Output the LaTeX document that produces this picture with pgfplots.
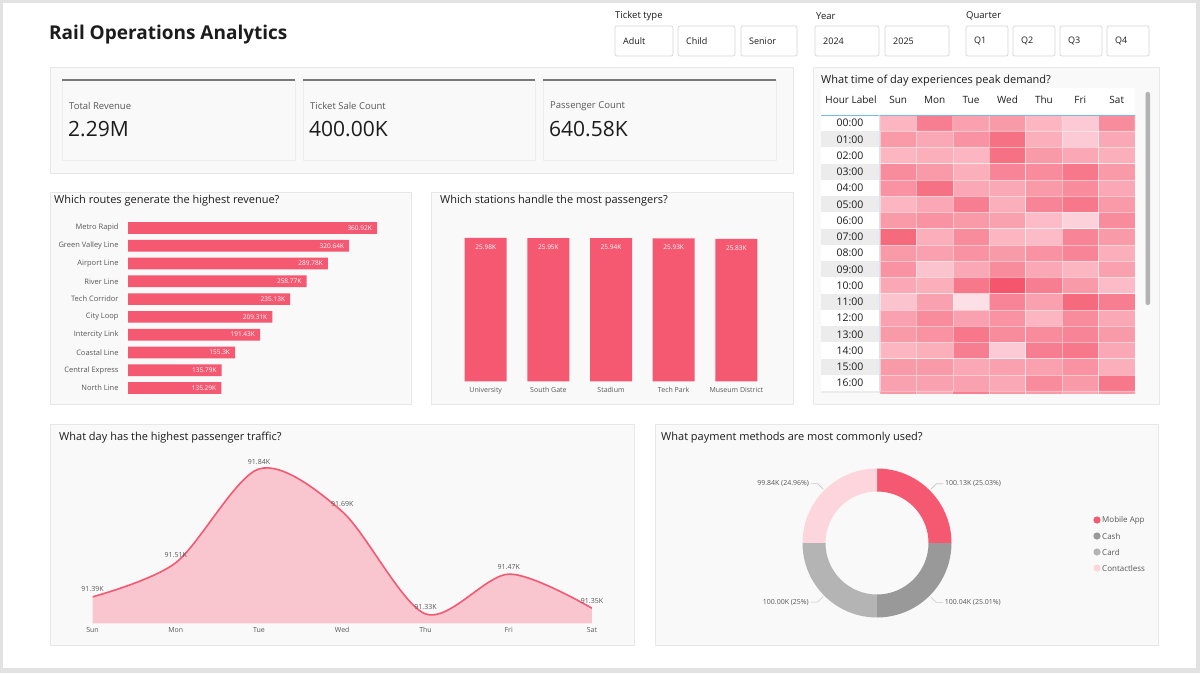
\documentclass[border=0pt]{standalone}
\usepackage{fontspec}
\setmainfont{Open Sans}
\usepackage{pgfplots}
\usepackage{pgfplotstable}
\pgfplotsset{compat=1.18, /pgf/number format/assume math mode=true}

\definecolor{brand}{RGB}{245,88,113}
\definecolor{brandfill}{RGB}{249,198,207}
\definecolor{panelbg}{RGB}{249,249,249}
\definecolor{panelrule}{RGB}{231,231,231}
\definecolor{framegray}{RGB}{226,226,226}
\definecolor{ink}{RGB}{28,28,28}
\definecolor{soft}{RGB}{88,88,88}
\definecolor{cashgray}{RGB}{153,153,153}
\definecolor{cardgray}{RGB}{180,180,180}
\definecolor{contactless}{RGB}{253,214,221}
\definecolor{rowshade}{RGB}{236,236,236}
\definecolor{hdrblue}{RGB}{120,185,240}
\definecolor{slicerline}{RGB}{214,214,214}
\definecolor{kpirule}{RGB}{120,120,120}
\definecolor{leader}{RGB}{200,200,200}

\newcommand\fs[1]{\fontsize{#1pt}{#1pt}\selectfont}

% ---------- data ----------
\pgfplotstableread[col sep=comma]{
idx,route,revenue
0,Metro Rapid,360.92
1,Green Valley Line,320.64
2,Airport Line,289.78
3,River Line,258.77
4,Tech Corridor,235.13
5,City Loop,209.31
6,Intercity Link,191.43
7,Coastal Line,155.3
8,Central Express,135.79
9,North Line,135.29
}\routes

\pgfplotstableread[col sep=comma]{
idx,station,passengers
0,University,25.98
1,South Gate,25.95
2,Stadium,25.94
3,Tech Park,25.93
4,Museum District,25.83
}\stations

\pgfplotstableread[col sep=comma]{
idx,day,traffic
0,Sun,91.39
1,Mon,91.51
2,Tue,91.84
3,Wed,91.69
4,Thu,91.33
5,Fri,91.47
6,Sat,91.35
}\days

\pgfplotstableread[col sep=comma]{
method,value
Mobile App,100.13
Cash,100.04
Card,100.00
Contactless,99.84
}\payments

% demand index per hour (rows, 0 = 00:00) and weekday (cols, 0 = Sun)
\pgfplotstableread{
col row demand
0 0 3
1 0 7
2 0 4.5
3 0 5
4 0 3
5 0 1.5
6 0 6
0 -1 5
1 -1 4
2 -1 5.5
3 -1 8
4 -1 3.5
5 -1 1.5
6 -1 4
0 -2 3
1 -2 3.5
2 -2 3
3 -2 8
4 -2 5
5 -2 4
6 -2 3.5
0 -3 6
1 -3 5
2 -3 3.5
3 -3 6.5
4 -3 6
5 -3 7.5
6 -3 5
0 -4 5.5
1 -4 8
2 -4 4
3 -4 4
4 -4 5
5 -4 6
6 -4 4
0 -5 3
1 -5 4
2 -5 7
3 -5 3.5
4 -5 6.5
5 -5 7.5
6 -5 5
0 -6 5
1 -6 5.5
2 -6 5
3 -6 4.5
4 -6 2.5
5 -6 1
6 -6 6
0 -7 8.5
1 -7 3.5
2 -7 6
3 -7 3
4 -7 2.5
5 -7 6.5
6 -7 5
0 -8 5
1 -8 4.5
2 -8 5.5
3 -8 5
4 -8 5.5
5 -8 6.5
6 -8 3.5
0 -9 5.5
1 -9 2
2 -9 4
3 -9 6
4 -9 4
5 -9 3
6 -9 4.5
0 -10 4
1 -10 3.5
2 -10 7.5
3 -10 10
4 -10 7
5 -10 5
6 -10 2.5
0 -11 2
1 -11 4.5
2 -11 0
3 -11 6.5
4 -11 4.5
5 -11 8.5
6 -11 7
0 -12 4.5
1 -12 6
2 -12 4.5
3 -12 5.5
4 -12 3
5 -12 6
6 -12 4
0 -13 5
1 -13 5.5
2 -13 7.5
3 -13 6
4 -13 6
5 -13 6.5
6 -13 5
0 -14 3
1 -14 3.5
2 -14 7
3 -14 1.5
4 -14 7
5 -14 7.5
6 -14 4
0 -15 5
1 -15 5
2 -15 4
3 -15 4.5
4 -15 4.5
5 -15 5.5
6 -15 3.5
0 -16 4.5
1 -16 4.5
2 -16 4.5
3 -16 4
4 -16 6
5 -16 5
6 -16 7.5
0 -17 5
1 -17 4
2 -17 7
3 -17 5
4 -17 5
5 -17 4
6 -17 5
}\heat

% donut angles, clockwise from 12 o'clock
\pgfplotstablegetelem{0}{value}\of\payments \let\pa\pgfplotsretval
\pgfplotstablegetelem{1}{value}\of\payments \let\pb\pgfplotsretval
\pgfplotstablegetelem{2}{value}\of\payments \let\pc\pgfplotsretval
\pgfplotstablegetelem{3}{value}\of\payments \let\pd\pgfplotsretval
\pgfmathsetmacro\ptot{\pa+\pb+\pc+\pd}
\pgfmathsetmacro\aA{90}
\pgfmathsetmacro\aB{\aA-360*(\pa/\ptot)}
\pgfmathsetmacro\aC{\aB-360*(\pb/\ptot)}
\pgfmathsetmacro\aD{\aC-360*(\pc/\ptot)}
\pgfmathsetmacro\aE{\aD-360*(\pd/\ptot)}
\pgfmathsetmacro\mA{(\aA+\aB)/2}
\pgfmathsetmacro\mB{(\aB+\aC)/2}
\pgfmathsetmacro\mC{(\aC+\aD)/2}
\pgfmathsetmacro\mD{(\aD+\aE)/2}

% ring segment in a unit-radius axis (outer radius 1 = 74.5pt, inner 51.5pt)
\newcommand\seg[3]{%
  \fill[#1] (axis cs:{cos(#2)},{sin(#2)}) arc[start angle=#2, end angle=#3, radius=74.5pt]
    -- (axis cs:{0.6913*cos(#3)},{0.6913*sin(#3)}) arc[start angle=#3, end angle=#2, radius=51.5pt] -- cycle;}
% leader line and label: angle, direction (+1/-1), text
\newcommand\lead[3]{%
  \draw[leader, line width=0.6pt] (axis cs:{1.02*cos(#1)},{1.02*sin(#1)})
    -- (axis cs:{1.125*cos(#1)},{1.125*sin(#1)})
    -- (axis cs:{1.125*cos(#1)+(#2)*0.094},{1.125*sin(#1)})
    node[anchor=\ifnum#2>0 west\else east\fi, inner sep=1.5pt, font=\fs{7}, text=soft] {#3};}

\newcommand\panel[4]{\filldraw[fill=panelbg, draw=panelrule, line width=0.6pt] (#1,#2) rectangle (#3,#4);}
\newcommand\slicer[3]{%
  \filldraw[fill=white, draw=slicerline, rounded corners=2pt, line width=0.7pt] (#1,26) rectangle (#2,56);
  \node[anchor=west, font=\fs{9}, text=ink, inner sep=0pt] at (#1+8,41.5) {#3};}
\newcommand\kpi[4]{%
  \filldraw[fill=panelbg, draw=panelrule!70, line width=0.5pt] (#1,80) rectangle (#2,160);
  \draw[kpirule, line width=1.2pt] (#1,80) -- (#2,80);
  \node[anchor=west, font=\fs{9.5}, text=soft, inner sep=0pt] at (#1+7,106) {#3};
  \node[anchor=west, font=\fs{21}, text=ink, inner sep=0pt] at (#1+6,129) {#4};}

\begin{document}
\begin{tikzpicture}[x=1pt, y=1pt, px/.style={shift={(0,673)}, y=-1pt}]
\begin{scope}[px]
% page and frame
\fill[framegray] (0,0) rectangle (1200,673);
\fill[white] (3,3) rectangle (1196,668);

% header
\node[anchor=base west, font=\fs{19}\bfseries, text=ink, inner sep=0pt] at (49,40) {Rail Operations Analytics};
\node[anchor=west, font=\fs{9.5}, text=ink, inner sep=0pt] at (615,16) {Ticket type};
\node[anchor=west, font=\fs{9.5}, text=ink, inner sep=0pt] at (816,16) {Year};
\node[anchor=west, font=\fs{9.5}, text=ink, inner sep=0pt] at (966,16) {Quarter};
\slicer{615}{673}{Adult}
\slicer{678}{735}{Child}
\slicer{741}{797}{Senior}
\slicer{815}{879}{2024}
\slicer{885}{949}{2025}
\slicer{966}{1008}{Q1}
\slicer{1013}{1055}{Q2}
\slicer{1060}{1102}{Q3}
\slicer{1107}{1149}{Q4}

% KPI strip
\panel{50}{67}{793}{173}
\kpi{62}{295}{Total Revenue}{2.29M}
\kpi{303}{535}{Ticket Sale Count}{400.00K}
\kpi{543}{776}{Passenger Count}{640.58K}

% panels
\panel{50}{192}{411}{404}
\panel{431}{192}{793}{404}
\panel{813}{67}{1159}{404}
\panel{50}{424}{634}{645}
\panel{655}{424}{1158}{645}

\node[anchor=west, font=\fs{11}, text=ink, inner sep=0pt] at (54,201) {Which routes generate the highest revenue?};
\node[anchor=west, font=\fs{11}, text=ink, inner sep=0pt] at (440,201) {Which stations handle the most passengers?};
\node[anchor=west, font=\fs{11}, text=ink, inner sep=0pt] at (821,81) {What time of day experiences peak demand?};
\node[anchor=west, font=\fs{11}, text=ink, inner sep=0pt] at (59,438) {What day has the highest passenger traffic?};
\node[anchor=west, font=\fs{11}, text=ink, inner sep=0pt] at (661,438) {What payment methods are most commonly used?};

% heatmap table background
\fill[white] (821,88) rectangle (1135,393);
\foreach \r in {1,3,...,17} {
  \fill[rowshade] (821,{115+16.25*\r}) rectangle (879.5,{min(393,115+16.25*(\r+1))});
}
\node[font=\fs{10}, text=ink, inner sep=0pt] at (851,100) {Hour Label};
\end{scope}

% ---------- routes ----------
\begin{axis}[
  at={(128pt,453.9pt)}, anchor=north west,
  scale only axis, width=276pt, height=177.8pt,
  xbar, bar width=11.7pt,
  xmin=0, xmax=400, ymin=-0.5, ymax=9.5, y dir=reverse,
  enlargelimits=false,
  axis line style={draw=none}, tick style={draw=none},
  xtick=\empty, ytick={0,...,9},
  yticklabels from table={\routes}{route},
  yticklabel style={font=\fs{7.5}, text=soft, inner sep=0pt, xshift=-5pt},
  point meta=x,
  nodes near coords={\pgfmathprintnumber[fixed,precision=2]{\pgfplotspointmeta}K},
  every node near coord/.append style={anchor=east, font=\fs{6.5}, text=white, inner sep=0pt, xshift=-5pt},
]
\addplot[fill=brand, draw=none] table[x=revenue, y=idx] {\routes};
\end{axis}

% ---------- stations ----------
\begin{axis}[
  at={(454.4pt,291.7pt)}, anchor=south west,
  scale only axis, width=313.25pt, height=165.5pt,
  ybar, bar width=42pt,
  xmin=-0.5, xmax=4.5, ymin=0, ymax=30, enlargelimits=false,
  axis line style={draw=none}, tick style={draw=none},
  ytick=\empty, xtick={0,...,4},
  xticklabels from table={\stations}{station},
  xticklabel style={font=\fs{7}, text=soft, inner sep=0pt, yshift=-1.5pt},
  point meta=y,
  nodes near coords={\pgfmathprintnumber[fixed,precision=2]{\pgfplotspointmeta}K},
  every node near coord/.append style={anchor=north, font=\fs{6.5}, text=white, inner sep=0pt, yshift=-6.5pt},
]
\addplot[fill=brand, draw=none] table[x=idx, y=passengers] {\stations};
\end{axis}

% ---------- heatmap ----------
\begin{axis}[
  at={(880pt,558pt)}, anchor=north west,
  scale only axis, width=255pt, height=278pt,
  xmin=-0.5, xmax=6.5, ymin=-16.61, ymax=0.5, enlargelimits=false,
  axis line style={draw=none}, tick style={draw=none},
  xtick={0,...,6}, xticklabels={Sun,Mon,Tue,Wed,Thu,Fri,Sat},
  xticklabel pos=upper,
  xticklabel style={font=\fs{10}, text=ink, anchor=base, inner sep=0pt, yshift=11pt},
  ytick={0,-1,...,-16},
  yticklabels={00:00,01:00,02:00,03:00,04:00,05:00,06:00,07:00,08:00,09:00,10:00,11:00,12:00,13:00,14:00,15:00,16:00},
  yticklabel style={font=\fs{10.5}, text=ink, anchor=center, inner sep=0pt, xshift=-30pt},
  colormap={demand}{rgb255=(253,223,230) rgb255=(245,86,109)},
  point meta min=0, point meta max=10,
]
\addplot[matrix plot*, mesh/cols=7, point meta=explicit, draw=white, draw opacity=0.45, line width=0.6pt]
  table[x=col, y=row, meta=demand] {\heat};
\end{axis}
\begin{scope}[px]
\draw[hdrblue, line width=0.8pt] (821,115) -- (1135,115);
\draw[hdrblue!35, line width=0.5pt] (879.5,115) -- (879.5,393);
\fill[gray!60, rounded corners=2pt] (1145.5,92) rectangle (1150,305);
\end{scope}

% ---------- daily traffic ----------
\begin{axis}[
  at={(92.5pt,49.7pt)}, anchor=south west,
  scale only axis, width=499.5pt, height=168.3pt,
  xmin=0, xmax=6, ymin=91.297, ymax=91.889, enlargelimits=false,
  axis line style={draw=none}, tick style={draw=none},
  ytick=\empty, xtick={0,...,6},
  xticklabels from table={\days}{day},
  xticklabel style={font=\fs{7}, text=soft, inner sep=0pt, yshift=-4pt},
]
\addplot[smooth, fill=brandfill, draw=none] table[x=idx, y=traffic] {\days} \closedcycle;
\addplot[smooth, brand, line width=1.6pt, point meta=y,
  nodes near coords={\pgfmathprintnumber[fixed,precision=2]{\pgfplotspointmeta}K},
  every node near coord/.append style={anchor=south, font=\fs{7}, text=soft, inner sep=0pt, yshift=4pt}]
  table[x=idx, y=traffic] {\days};
\end{axis}

% ---------- payment methods ----------
\begin{axis}[
  at={(877pt,130pt)}, anchor=center,
  scale only axis, width=149pt, height=149pt,
  xmin=-1, xmax=1, ymin=-1, ymax=1, hide axis, clip=false,
]
\seg{brand}{\aA}{\aB}
\seg{cashgray}{\aB}{\aC}
\seg{cardgray}{\aC}{\aD}
\seg{contactless}{\aD}{\aE}
\lead{\mA}{1}{100.13K (25.03\%)}
\lead{\mB}{1}{100.04K (25.01\%)}
\lead{\mC}{-1}{100.00K (25\%)}
\lead{\mD}{-1}{99.84K (24.96\%)}
\end{axis}
\begin{scope}[px]
\fill[brand] (1097,520) circle (3.6);
\fill[cashgray] (1097,536) circle (3.6);
\fill[cardgray] (1097,552) circle (3.6);
\fill[contactless] (1097,568) circle (3.6);
\node[anchor=west, font=\fs{8}, text=soft, inner sep=0pt] at (1102,520) {Mobile App};
\node[anchor=west, font=\fs{8}, text=soft, inner sep=0pt] at (1102,536) {Cash};
\node[anchor=west, font=\fs{8}, text=soft, inner sep=0pt] at (1102,552) {Card};
\node[anchor=west, font=\fs{8}, text=soft, inner sep=0pt] at (1102,568) {Contactless};
\end{scope}
\end{tikzpicture}
\end{document}
